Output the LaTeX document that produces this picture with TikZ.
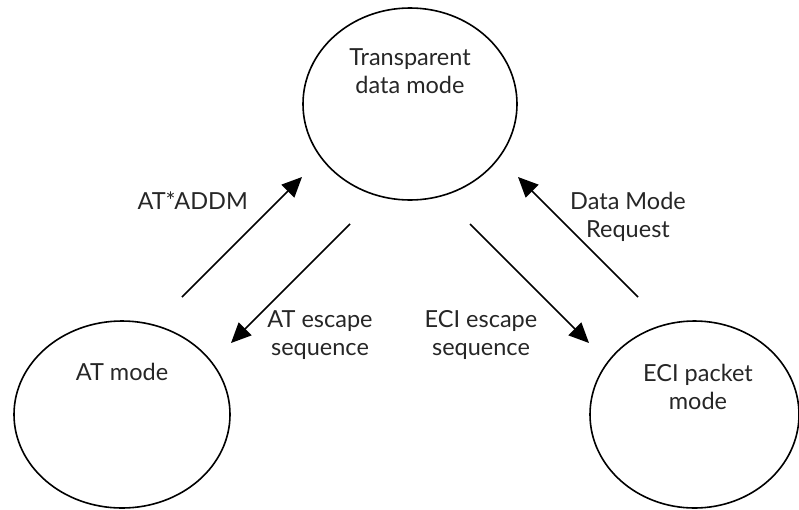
\documentclass[tikz,border=0pt]{standalone}
\usepackage{fontspec}
\setmainfont{Lato}
\usetikzlibrary{shapes.geometric,arrows.meta}
\begin{document}
\begin{tikzpicture}[x=1pt,y=-1pt,
  state/.style={draw, line width=1.6pt, ellipse, inner sep=0pt},
  lbl/.style={font=\fontsize{23.5}{28}\selectfont, align=center, inner sep=0pt,
              anchor=north, text=black!85},
  trans/.style={draw, line width=1.5pt, -{Triangle[length=20pt,width=18pt]}}]
\useasboundingbox (0,0) rectangle (799,509);
% states
\node[state, minimum width=214pt, minimum height=192pt] (tdm) at (410,104) {};
\node[state, minimum width=216pt, minimum height=187pt] (atm) at (122,414.5) {};
\node[state, minimum width=209pt, minimum height=187pt] (eci) at (694.5,414.5) {};
\node[lbl] (tdmtxt) at (410,48) {Transparent\\data mode};
\node[lbl] (atmtxt) at (122,363) {AT mode};
\node[lbl] (ecitxt) at (698,364) {ECI packet\\mode};
% transition end points
\coordinate (a1) at (182,297); \coordinate (a2) at (302,177);
\coordinate (b1) at (350,224); \coordinate (b2) at (231,343);
\coordinate (c1) at (470,224); \coordinate (c2) at (589,343);
\coordinate (d1) at (638,297); \coordinate (d2) at (518,177);
\draw[trans] (a1) -- (a2);
\draw[trans] (b1) -- (b2);
\draw[trans] (c1) -- (c2);
\draw[trans] (d1) -- (d2);
% transition labels
\node[lbl, anchor=north east] (la) at (248,192) {AT*ADDM};
\node[lbl] (lb) at (320,310) {AT escape\\sequence};
\node[lbl] (lc) at (481,310) {ECI escape\\sequence};
\node[lbl] (ld) at (628,192) {Data Mode\\Request};
\end{tikzpicture}
\end{document}
